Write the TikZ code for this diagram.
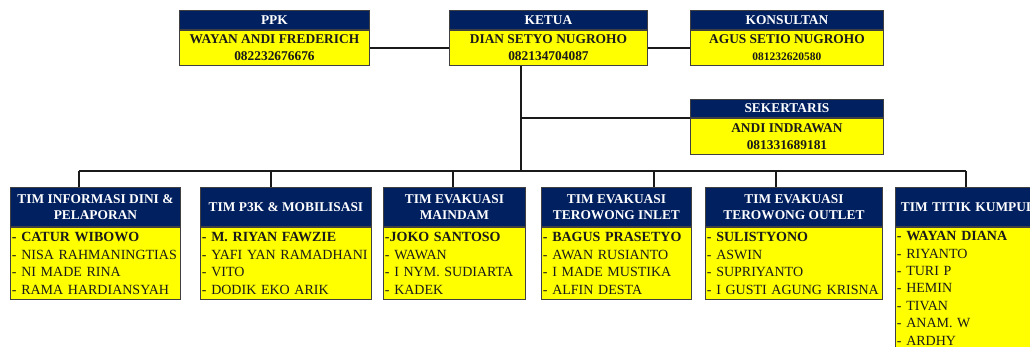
\documentclass[tikz,border=0pt]{standalone}
\usepackage{fontspec}
\setmainfont{Liberation Serif}
\definecolor{navy}{HTML}{002060}
\definecolor{yel}{HTML}{FFFF00}
\definecolor{edge}{HTML}{404040}
\definecolor{ink}{HTML}{1A1A1A}
\begin{document}
\begin{tikzpicture}[x=1pt,y=-1pt,
  hdr/.style={draw=edge, line width=0.9pt, fill=navy, text=white, inner sep=0pt, align=center, anchor=north west,
    font=\bfseries\fontsize{13.4}{16}\selectfont},
  topbody/.style={draw=edge, line width=0.9pt, fill=yel, text=ink, inner sep=0pt, align=center, anchor=north west,
    font=\bfseries\fontsize{13.4}{17}\selectfont},
  listbody/.style={draw=edge, line width=0.9pt, fill=yel, text=ink, inner xsep=1.5pt, inner ysep=0pt, align=left, anchor=north west,
    font=\fontsize{14}{17.4}\selectfont},
  conn/.style={draw=ink, line width=1.4pt}
]
\useasboundingbox (0,0) rectangle (1030,347);
\clip (0,0) rectangle (1030,347);
% top row
\node[hdr, minimum width=190, minimum height=19] (ppkh) at (179,10) {PPK};
\node[topbody, minimum width=190, minimum height=35] (ppk) at (ppkh.south west) {WAYAN ANDI FREDERICH\\082232676676};
\node[hdr, minimum width=198, minimum height=19] (keth) at (449,10) {KETUA};
\node[topbody, minimum width=198, minimum height=35] (ket) at (keth.south west) {DIAN SETYO NUGROHO\\082134704087};
\node[hdr, minimum width=193, minimum height=19] (konh) at (690,10) {KONSULTAN};
\node[topbody, minimum width=193, minimum height=35] (kon) at (konh.south west) {AGUS SETIO NUGROHO\\{\fontsize{11.5}{13}\selectfont 081232620580}};
\node[hdr, minimum width=193, minimum height=18] (sekh) at (690,99) {SEKERTARIS};
\node[topbody, minimum width=193, minimum height=36] (sek) at (sekh.south west) {ANDI INDRAWAN\\081331689181};
% bottom row
\node[hdr, minimum width=170, minimum height=39] (h1) at (10,187) {TIM INFORMASI DINI \&\\PELAPORAN};
\node[listbody, text width=167, minimum height=72] (b1) at (h1.south west) {\textbf{- CATUR WIBOWO}\\- NISA RAHMANINGTIAS\\- NI MADE RINA\\- RAMA HARDIANSYAH};
\node[hdr, minimum width=171, minimum height=39] (h2) at (200,187) {TIM P3K \& MOBILISASI};
\node[listbody, text width=168, minimum height=72] (b2) at (h2.south west) {\textbf{- M. RIYAN FAWZIE}\\- YAFI YAN RAMADHANI\\- VITO\\- DODIK EKO ARIK};
\node[hdr, minimum width=142, minimum height=39] (h3) at (383,187) {TIM EVAKUASI\\MAINDAM};
\node[listbody, text width=139, minimum height=72] (b3) at (h3.south west) {\textbf{-JOKO SANTOSO}\\- WAWAN\\- I NYM. SUDIARTA\\- KADEK};
\node[hdr, minimum width=150, minimum height=39] (h4) at (541,187) {TIM EVAKUASI\\TEROWONG INLET};
\node[listbody, text width=147, minimum height=72] (b4) at (h4.south west) {\textbf{- BAGUS PRASETYO}\\- AWAN RUSIANTO\\- I MADE MUSTIKA\\- ALFIN DESTA};
\node[hdr, minimum width=177, minimum height=39] (h5) at (705,187) {TIM EVAKUASI\\TEROWONG OUTLET};
\node[listbody, text width=174, minimum height=72] (b5) at (h5.south west) {\textbf{- SULISTYONO}\\- ASWIN\\- SUPRIYANTO\\- I GUSTI AGUNG KRISNA};
\node[hdr, minimum width=160, minimum height=39, text width=157, align=left, inner xsep=1.5pt] (h6) at (895,187) {\hspace{4pt}TIM TITIK KUMPUL};
\node[listbody, text width=157, minimum height=122] (b6) at (h6.south west) {\textbf{- WAYAN DIANA}\\- RIYANTO\\- TURI P\\- HEMIN\\- TIVAN\\- ANAM. W\\- ARDHY};
% connectors
\coordinate (kd) at (ket.south -| 521,0);
\coordinate (kb) at (521,171);
\coordinate (busL) at (79,171);
\coordinate (busR) at (966,171);
\draw[conn] (ppk.east) -- (ket.west);
\draw[conn] (ket.east) -- (kon.west);
\draw[conn] (kd) -- (kb);
\draw[conn] (kd |- sekh.south west) -- (sekh.south west);
\draw[conn] (busL) -- (busR);
\draw[conn] (busL) -- (busL |- h1.north);
\draw[conn] (busL -| 271,0) -- (h2.north -| 271,0);
\draw[conn] (busL -| 453,0) -- (h3.north -| 453,0);
\draw[conn] (busL -| 654,0) -- (h4.north -| 654,0);
\draw[conn] (busL -| 776,0) -- (h5.north -| 776,0);
\draw[conn] (busR) -- (busR |- h6.north);
\end{tikzpicture}
\end{document}
